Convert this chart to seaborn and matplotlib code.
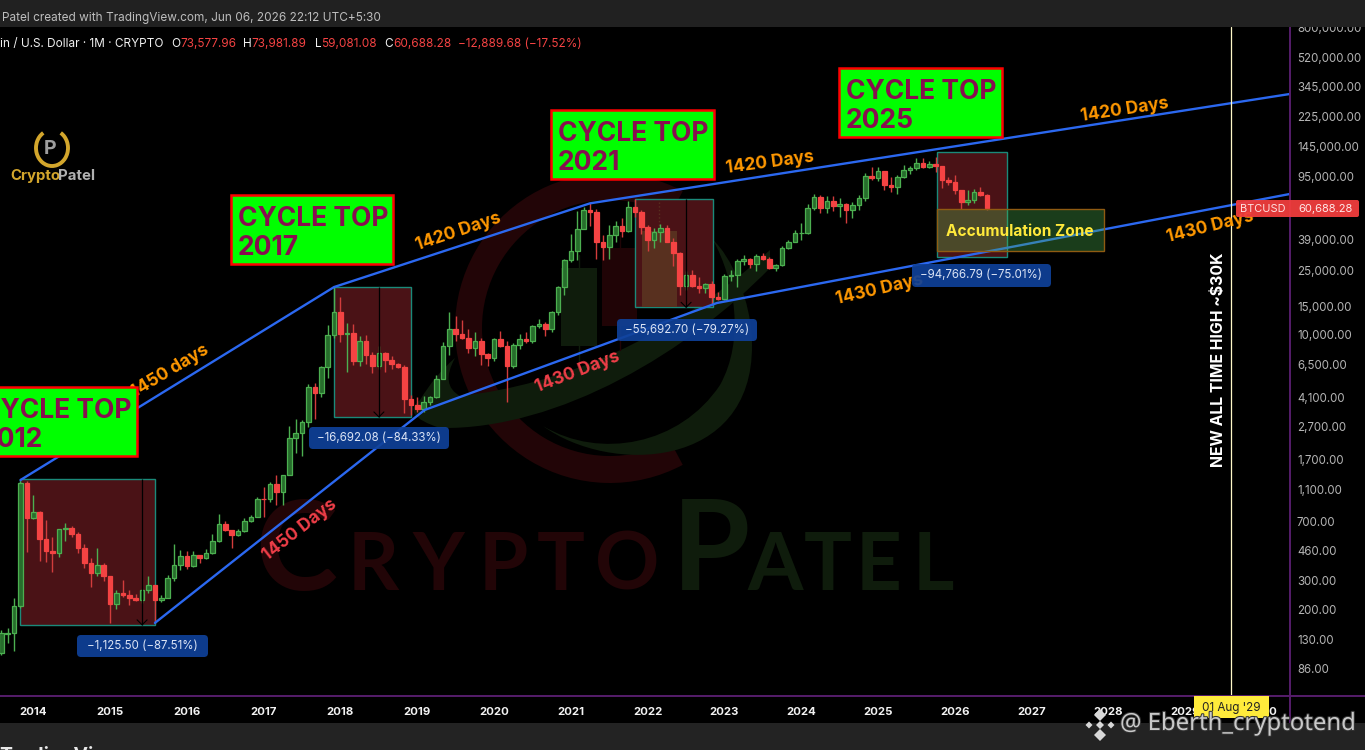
import numpy as np
import pandas as pd
import matplotlib
matplotlib.use("Agg")
import matplotlib.pyplot as plt
import matplotlib.patches as mpatches
import matplotlib.patheffects as pe
import matplotlib.transforms as mtrans
from matplotlib.path import Path
import seaborn as sns

# --------------------------------
# Monthly BTC candles, Aug 2013 - Jun 2026
# --------------------------------
opens = [108, 141, 143, 210, 1215, 736, 800, 545, 457, 447, 627, 640, 585, 480, 385, 337, 378, 320, 217, 254,
         244, 236, 230, 264, 284, 230, 236, 315, 378, 430, 370, 437, 416, 448, 530, 672, 620, 575, 608, 700,
         745, 965, 960, 1190, 1070, 1350, 2300, 2480, 2875, 4750, 4350, 6300, 9900, 13900, 10100, 10300, 6900, 9200, 7500, 6400,
         7750, 7000, 6600, 6350, 4000, 3700, 3450, 3820, 4100, 5300, 8550, 10800, 10100, 9600, 8300, 9150, 7550, 7200, 9350, 8550,
         6450, 8650, 9450, 9150, 11350, 11650, 10800, 13800, 19700, 29000, 33100, 45100, 58800, 57700, 37300, 35000, 41500, 47100, 43800, 61300,
         57000, 46300, 38500, 43200, 45500, 37700, 31800, 19900, 23300, 20000, 19400, 20500, 17200, 16550, 23100, 23500, 28500, 29300, 27200, 30500,
         29200, 26000, 27000, 34500, 37700, 42300, 42600, 61100, 71300, 60600, 67500, 62700, 64600, 59000, 63300, 70200, 96400, 93400, 102400, 84300,
         82500, 94200, 104600, 107100, 115700, 108200, 114000, 110000, 90000, 87500, 78000, 66500, 68000, 76500, 73577.96]
highs = [150, 153, 235, 1240, 1240, 1020, 810, 715, 560, 630, 680, 660, 600, 510, 415, 480, 390, 322, 265, 305,
         262, 250, 268, 320, 284, 247, 325, 505, 468, 460, 458, 437, 470, 585, 780, 700, 620, 625, 740, 770,
         985, 1150, 1220, 1350, 1360, 2740, 3000, 2950, 4950, 5000, 6450, 11500, 19700, 17200, 11800, 11700, 9800, 10000, 7800, 8500,
         7800, 7400, 6700, 6500, 4250, 4100, 4200, 4200, 5600, 9000, 13800, 13000, 12300, 10900, 10350, 9500, 7750, 9600, 10500, 9200,
         8950, 10050, 10400, 11500, 12450, 12050, 14100, 19900, 29300, 41900, 58300, 61700, 64800, 59500, 41300, 48000, 50500, 52900, 67000, 69000,
         59000, 47900, 45800, 48200, 47400, 39900, 32400, 24700, 25200, 22700, 21000, 21500, 18300, 23900, 25200, 29200, 31000, 29800, 31400, 31800,
         30200, 27500, 35200, 38400, 44700, 48900, 64000, 73800, 72700, 71900, 72000, 70000, 65600, 66500, 73600, 99800, 108300, 109000, 102700, 95000,
         97900, 112000, 110500, 123000, 124500, 117900, 126000, 110500, 94500, 97500, 78500, 78000, 79500, 82000, 73981.89]
lows = [104, 124, 111, 205, 453, 730, 400, 395, 340, 420, 530, 565, 445, 360, 275, 320, 300, 165, 200, 238,
        212, 225, 218, 253, 165, 222, 235, 300, 350, 355, 365, 385, 412, 438, 520, 610, 480, 570, 602, 695,
        745, 750, 920, 890, 880, 1350, 1850, 1770, 2700, 3000, 4100, 5400, 9500, 9000, 5900, 6500, 6400, 6600, 5800, 6100,
        5900, 6100, 6200, 3300, 3200, 3350, 3350, 3700, 4050, 5300, 7500, 9100, 9350, 7700, 7350, 6500, 6450, 6850, 8450, 3850,
        6200, 8150, 8900, 8950, 11000, 9850, 10400, 13200, 17600, 28100, 28900, 45000, 47000, 29500, 28800, 29300, 37300, 40000, 43200, 53500,
        42000, 33000, 34300, 37500, 37400, 26700, 17600, 18800, 19600, 18200, 18200, 15500, 16300, 16500, 21400, 19600, 27000, 25800, 24800, 28900,
        25500, 24900, 26600, 34000, 37500, 38500, 41800, 59000, 56500, 56500, 58400, 53500, 49000, 52600, 58900, 66800, 90700, 89200, 78200, 76600,
        74500, 93300, 98200, 105000, 107300, 107300, 102000, 81000, 84000, 74500, 60000, 63000, 65000, 72000, 59081.08]
closes = [143, 144, 210, 1215, 736, 800, 545, 457, 447, 627, 635, 585, 480, 385, 337, 378, 320, 217, 254, 244,
          236, 230, 264, 284, 230, 236, 315, 378, 430, 370, 437, 416, 448, 530, 672, 620, 575, 608, 700, 745,
          965, 960, 1190, 1070, 1350, 2300, 2480, 2875, 4750, 4350, 6300, 9900, 13900, 10100, 10300, 6900, 9200, 7500, 6400, 7750,
          7000, 6600, 6350, 4000, 3700, 3450, 3820, 4100, 5300, 8550, 10800, 10100, 9600, 8300, 9150, 7550, 7200, 9350, 8550, 6450,
          8650, 9450, 9150, 11350, 11650, 10800, 13800, 19700, 29000, 33100, 45100, 58800, 57700, 37300, 35000, 41500, 47100, 43800, 61300, 57000,
          46300, 38500, 43200, 45500, 37700, 31800, 19900, 23300, 20000, 19400, 20500, 17200, 16550, 23100, 23500, 28500, 29300, 27200, 30500, 29200,
          26000, 27000, 34500, 37700, 42300, 42600, 61100, 71300, 60600, 67500, 62700, 64600, 59000, 63300, 70200, 96400, 93400, 102400, 84300, 82500,
          94200, 104600, 107100, 115700, 108200, 114000, 110000, 90000, 87500, 78000, 66500, 68000, 76500, 73577.96, 60688.28]

# price axis and time axis
price_ticks = [800000, 520000, 345000, 225000, 145000, 95000, 39000, 25000, 15000, 10000, 6500,
               4100, 2700, 1700, 1100, 700, 460, 300, 200, 130, 86]
year_labels = list(range(2014, 2031))
crosshair_date = "2029-08-04"

# channel lines (month, price)
upper_dates = ["2013-11-01", "2017-12-01", "2021-04-01", "2030-05-10"]
upper_prices = [1263, 19720, 64960, 308000]
lower_dates = ["2015-08-01", "2019-02-05", "2022-11-25", "2030-05-10"]
lower_prices = [165, 3423, 15703, 74150]

# drawdown boxes
box_starts = ["2013-11-01", "2017-12-01", "2021-11-01", "2025-10-05"]
box_ends = ["2015-08-01", "2018-12-01", "2022-11-05", "2026-09-05"]
box_tops = [1286, 19794, 69060, 135500]
box_bottoms = [160.6, 3102, 14780, 30100]
box_labels = ["−1,125.50 (−87.51%)", "−16,692.08 (−84.33%)", "−55,692.70 (−79.27%)", "−94,766.79 (−75.01%)"]
marker_dates = ["2015-06-01", "2018-07-01", "2022-07-01"]

accum_start = "2025-10-05"
accum_end = "2027-12-08"
accum_top = 59650
accum_bottom = 33080

RED = "#f44343"
GREEN_EDGE = "#4caf50"
GREEN_FILL = "#276d2c"
BLUE = "#2b68f0"
PURPLE = "#561d6b"
ORANGE = "#ff9800"
LABEL_RED = "#ef3e48"
WM_RED = "#220507"
WM_GREEN = "#0f1c0c"

sns.set_theme(style="dark", rc={"axes.facecolor": "black", "figure.facecolor": "black"})
plt.rcParams["font.family"] = ["Inter", "DejaVu Sans"]

fig = plt.figure(figsize=(13.65, 7.5), dpi=100)
ax = fig.add_axes([0, 54 / 750, 1290 / 1365, 669 / 750])
ax.set_yscale("log")
ax.set_xlim(-0.203, 201.36)
ax.set_ylim(58.3, 800000)

# pixel helper, for everything that is decoration and not data
px = mtrans.Affine2D().scale(1, -1).translate(0, 750)
month0 = pd.Timestamp("2013-08-01")


def month_pos(d):
    t = pd.Timestamp(d)
    return (t.year - month0.year) * 12 + t.month - month0.month + (t.day - 1) / 30


def ptext(x, y, s, **kw):
    return ax.text(x, y, s, transform=px, clip_on=False, **kw)


# --------------------------------
# Watermark logo and name
# --------------------------------
ax.add_patch(mpatches.Wedge((610, 328), 155, 62, 298, width=27, color=WM_RED, transform=px, zorder=1, lw=0))

M, L, C3, C4 = Path.MOVETO, Path.LINETO, Path.CURVE3, Path.CURVE4
swoosh = Path([(455, 358), (440, 385), (460, 396), (560, 385), (670, 340), (770, 250), (770, 268),
               (690, 350), (560, 430), (440, 428), (400, 415), (420, 400), (435, 375), (455, 358)],
              [M, C3, C3, C4, C4, C4, L, C4, C4, C4, C3, C3, C3, C3])
ax.add_patch(mpatches.PathPatch(swoosh, color=WM_GREEN, transform=px, zorder=1, lw=0))
swoosh2 = Path([(543, 426), (610, 475), (753, 470), (752, 345), (752, 300), (730, 255), (713, 240),
                (735, 280), (745, 340), (720, 385), (680, 445), (600, 460), (543, 426)],
               [M, C4, C4, C4, C4, C4, C4, C4, C4, C4, C4, C4, C4])
ax.add_patch(mpatches.PathPatch(swoosh2, color=WM_GREEN, transform=px, zorder=1, lw=0))
for x0, x1, y0, y1, wick0, wick1, col in [(561, 597, 268, 346, 255, 372, WM_GREEN), (602, 637, 248, 326, 235, 350, "#200406")]:
    ax.add_patch(mpatches.Rectangle((x0, y0), x1 - x0, y1 - y0, color=col, transform=px, zorder=1, lw=0))
    ax.plot([(x0 + x1) / 2] * 2, [wick0, wick1], color=col, lw=1, transform=px, zorder=1)

letters = [("C", 296, 90, WM_RED), ("R", 373, 58, WM_RED), ("Y", 438, 58, WM_RED), ("P", 503, 58, WM_RED),
           ("T", 561, 58, WM_RED), ("O", 627, 58, WM_RED), ("P", 711, 92, WM_GREEN), ("A", 775, 58, WM_GREEN),
           ("T", 828, 58, WM_GREEN), ("E", 879, 58, WM_GREEN), ("L", 933, 58, WM_GREEN)]
for ch, xc, h, col in letters:
    ptext(xc, 590, ch, color=col, fontsize=h / 0.727 / 1.389, family="Lato", fontweight="bold",
          ha="center", va="baseline", zorder=1)

# --------------------------------
# Drawdown boxes
# --------------------------------
for s, e, t, b in zip(box_starts, box_ends, box_tops, box_bottoms):
    x0, x1 = month_pos(s), month_pos(e)
    ax.add_patch(mpatches.Rectangle((x0, b), x1 - x0, t - b, facecolor="#4a1216", edgecolor="#1a8a7a", lw=1.0, zorder=2))
ax.add_patch(mpatches.Rectangle((642, 231), 35, 76, color="#58301f", transform=px, zorder=2.2, lw=0))
ax.plot([659, 659], [202, 231], color="#58301f", lw=1, ls=":", transform=px, zorder=2.2)

# --------------------------------
# Candles
# --------------------------------
candles = pd.DataFrame({"open": opens, "high": highs, "low": lows, "close": closes})
candles["pos"] = np.arange(len(candles))
up = candles[candles["close"] >= candles["open"]]
down = candles[candles["close"] < candles["open"]]

ax.vlines(up["pos"], up["low"], up["high"], color=GREEN_EDGE, lw=1.0, zorder=3)
ax.vlines(down["pos"], down["low"], down["high"], color="#d23c3c", lw=1.0, zorder=3)
ax.bar(up["pos"], up["close"] - up["open"], bottom=up["open"], width=0.72,
       color=GREEN_FILL, edgecolor=GREEN_EDGE, lw=0.9, zorder=3.1)
ax.bar(down["pos"], down["open"] - down["close"], bottom=down["close"], width=0.72,
       color=RED, edgecolor=RED, lw=0.9, zorder=3.1)

# black measuring lines with small arrow heads
for d, t, b in zip(marker_dates, box_tops, box_bottoms):
    ax.vlines(month_pos(d), b, t, color="black", lw=0.9, zorder=3.5)
    xpx, ypx = ax.transData.transform((month_pos(d), b))
    ypx = 750 - ypx
    ax.plot([xpx - 5, xpx, xpx + 5], [ypx - 5, ypx, ypx - 5], color="black", lw=0.8, transform=px, zorder=3.5, clip_on=False)

# --------------------------------
# Channel lines
# --------------------------------
sns.lineplot(x=[month_pos(d) for d in upper_dates], y=upper_prices, color=BLUE, lw=1.7, ax=ax,
             estimator=None, sort=False, zorder=4, legend=False)
sns.lineplot(x=[month_pos(d) for d in lower_dates], y=lower_prices, color=BLUE, lw=1.7, ax=ax,
             estimator=None, sort=False, zorder=4, legend=False)

# accumulation zone
x0, x1 = month_pos(accum_start), month_pos(accum_end)
ax.add_patch(mpatches.Rectangle((x0, accum_bottom), x1 - x0, accum_top - accum_bottom,
                                facecolor=(0.30, 0.69, 0.31, 0.35), edgecolor="#8f5b12", lw=1.0, zorder=4.2))
ptext(1020, 231, "Accumulation Zone", color="#ffe93b", fontsize=11.1, fontweight="bold", ha="center", va="center", zorder=5)

# --------------------------------
# Day count labels
# --------------------------------
day_labels = [(170, 371, "1450 days", 31, ORANGE), (458, 232, "1420 Days", 18.5, ORANGE), (770, 163, "1420 Days", 7.5, ORANGE),
              (1125, 110, "1420 Days", 8.5, ORANGE), (300, 530, "1450 Days", 38, LABEL_RED), (578, 372, "1430 Days", 21, LABEL_RED),
              (880, 290, "1430 Days", 13, ORANGE), (1210, 227, "1430 Days", 14, ORANGE)]
for x, y, s, rot, col in day_labels:
    ptext(x, y, s, color=col, fontsize=12.5, fontweight="bold", rotation=rot, rotation_mode="anchor",
          ha="center", va="center", zorder=5)

# green cycle top boxes
cycle_boxes = [(-30, 137, 387, 456, "CYCLE TOP\n2012"), (231, 393, 195, 264, "CYCLE TOP\n2017"),
               (551, 714, 110, 179, "CYCLE TOP\n2021"), (839, 1002, 68, 137, "CYCLE TOP\n2025")]
for x0, x1, y0, y1, s in cycle_boxes:
    ax.add_patch(mpatches.Rectangle((x0, y0), x1 - x0, y1 - y0, facecolor="#00ff00", edgecolor="#ff0000", lw=1.8,
                                    transform=px, zorder=6, clip_on=False))
    ptext(x0 + 6.5 if x0 > 0 else -19, (y0 + y1) / 2 + 4, s, color="#880e4f", fontsize=19, fontweight="bold",
          ha="left", va="center", linespacing=1.13, zorder=6.1)

# blue callouts
callouts = [(77, 208, 635, 657), (309, 449, 427, 449), (617, 757, 319, 341), (912, 1051, 264, 287)]
for (x0, x1, y0, y1), s in zip(callouts, box_labels):
    ax.add_patch(mpatches.FancyBboxPatch((x0 + 4, y0 + 4), x1 - x0 - 8, y1 - y0 - 8, boxstyle="round,pad=4,rounding_size=4",
                                         facecolor="#0f4199", edgecolor="none", alpha=0.92, transform=px, zorder=6, clip_on=False))
    ptext((x0 + x1) / 2, (y0 + y1) / 2, s, color="#dbe4f5", fontsize=8.3, ha="center", va="center", zorder=6.1)

# --------------------------------
# Crosshair and side notes
# --------------------------------
ax.axvline(month_pos(crosshair_date), color="#fff8c8", lw=0.9, zorder=4.5)
ptext(1219, 360, "NEW ALL TIME HIGH ~$30K", color="white", fontsize=11.4, fontweight="bold", rotation=90,
      ha="center", va="center", zorder=5)
ax.plot([0, 1365], [696, 696], color=PURPLE, lw=1.4, transform=px, zorder=4.6, clip_on=False)
ax.plot([1290, 1290], [27, 723], color=PURPLE, lw=1.4, transform=px, zorder=4.6, clip_on=False)

ax.add_patch(mpatches.Rectangle((1194, 696), 75, 22, color="#ffeb3b", transform=px, zorder=7, clip_on=False, lw=0))
ptext(1231, 707.5, "01 Aug '29", color="#222222", fontsize=8.4, ha="center", va="center", zorder=7.1)

ax.add_patch(mpatches.FancyBboxPatch((1238, 202), 119, 13, boxstyle="round,pad=2,rounding_size=2", facecolor="#f23d3d",
                                     edgecolor="none", alpha=0.94, transform=px, zorder=7, clip_on=False))
ptext(1240, 208.5, "BTCUSD", color="#ffe0e0", fontsize=7.9, ha="left", va="center", zorder=7.1)
ptext(1298, 208.5, "60,688.28", color="#ffe8e8", fontsize=8.0, ha="left", va="center", zorder=7.1)

# logo, top left
ax.add_patch(mpatches.Arc((52, 148), 32, 36, theta1=-60, theta2=240, color="#d3a62c", lw=2.8, transform=px, zorder=2, clip_on=False))
ptext(50, 149, "P", color="#9d9d9d", fontsize=14, fontweight="bold", ha="center", va="center", zorder=2)
ptext(10, 176, "Crypto", color="#d3a62c", fontsize=10.8, fontweight="bold", ha="left", va="center", zorder=2)
ptext(58, 176, "Patel", color="#b0b0b0", fontsize=10.8, fontweight="bold", ha="left", va="center", zorder=2)

# --------------------------------
# Axis styling
# --------------------------------
ax.yaxis.tick_right()
ax.set_yticks(price_ticks)
ax.set_yticklabels([f"{p:,.2f}" for p in price_ticks])
ax.minorticks_off()
ax.tick_params(axis="y", length=0, pad=5, labelsize=8.3, labelcolor="#b4b4b4")
ax.set_xticks([5 + 12 * i for i in range(len(year_labels))])
ax.set_xticklabels(year_labels, fontweight="bold")
ax.tick_params(axis="x", length=0, pad=8, labelsize=8.2, labelcolor="#f2f2f2")
ax.set_axisbelow(True)
ax.grid(False)
sns.despine(ax=ax, left=True, bottom=True, right=True, top=True)
ax.set_xlabel("")
ax.set_ylabel("")

# --------------------------------
# Header and footer, on top of everything
# --------------------------------
top = fig.add_axes([0, 0, 1, 1], zorder=10)
top.set_xlim(0, 1365)
top.set_ylim(750, 0)
top.axis("off")
top.patch.set_alpha(0)
top.add_patch(mpatches.Rectangle((0, 0), 1365, 27, color="#212121", lw=0))
top.add_patch(mpatches.Rectangle((0, 723), 1365, 27, color="#232323", lw=0))
top.text(2, 17.5, "Patel created with TradingView.com, Jun 06, 2026 22:12 UTC+5:30", color="#bdbdbd", fontsize=8.5, va="center")

header_bits = [(0, "in / U.S. Dollar · 1M · CRYPTO", "#f0f0f0"), (171, "O", "#f0f0f0"), (180.5, "73,577.96", RED),
               (242.5, "H", "#f0f0f0"), (251.5, "73,981.89", RED), (314.5, "L", "#f0f0f0"), (321.5, "59,081.08", RED),
               (384.5, "C", "#f0f0f0"), (393.5, "60,688.28", RED), (458.5, "−12,889.68 (−17.52%)", RED)]
for x, s, col in header_bits:
    top.text(x, 44, s, color=col, fontsize=8.5, va="center")

top.text(-1, 761, "TradingView", color="#e8e8e8", fontsize=14, fontweight="bold", va="baseline", clip_on=False)

# binance style mark and credit
for cx, cy, r in [(1100, 715, 6), (1089, 725, 3.5), (1111, 725, 3.5), (1100, 725, 4), (1100, 735, 6)]:
    top.add_patch(mpatches.Polygon([(cx, cy - r), (cx + r, cy), (cx, cy + r), (cx - r, cy)], color="#d8d8d8", lw=0))
credit = top.text(1120, 724, "@ Eberth_cryptotend", color="#c9c9c9", fontsize=17.2, family="Noto Sans", va="center")
credit.set_path_effects([pe.withStroke(linewidth=1.5, foreground="#333333")])

fig.savefig("out.png", dpi=100, facecolor="black")
